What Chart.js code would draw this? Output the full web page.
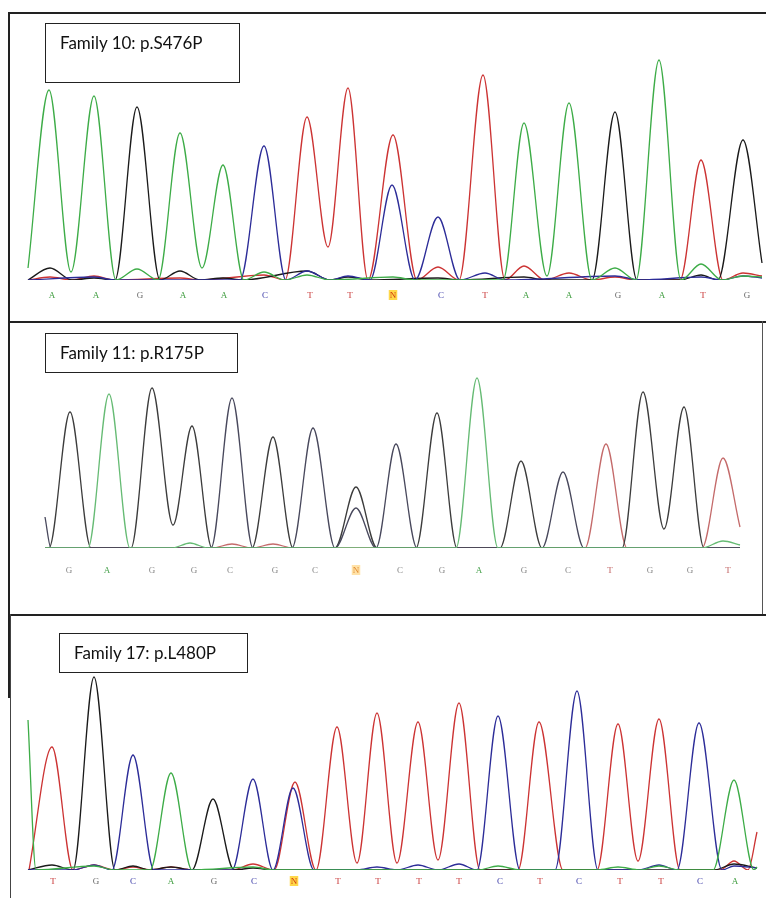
<!DOCTYPE html>
<html lang="en">
<head>
  <meta charset="UTF-8"/>
  <title>Sequencing chromatograms</title>
  <script src="https://cdn.jsdelivr.net/npm/chart.js"></script>
  <style>
    body { margin: 0; background: #fff; }
    #page { position: relative; width: 766px; height: 898px; overflow: hidden; background: #fff; }
    .rule { position: absolute; background: #222; }
    .label-box { position: absolute; border: 1.5px solid #222; box-sizing: border-box; font-family: Lato, 'Open Sans', sans-serif; font-size: 17px; color: #111; z-index: 2; white-space: nowrap; }
    canvas { position: absolute; left: 0; z-index: 1; }
  </style>
</head>
<body>
<div id="page">
  <!-- panel frames -->
  <div class="rule" style="left:8px;top:12px;width:758px;height:1.5px"></div>
  <div class="rule" style="left:8px;top:12px;width:1.5px;height:310px"></div>
  <div class="rule" style="left:8px;top:321px;width:758px;height:1.5px"></div>
  <div class="rule" style="left:8px;top:321px;width:1.5px;height:294px"></div>
  <div class="rule" style="left:762px;top:321px;width:1.2px;height:294px;background:#555"></div>
  <div class="rule" style="left:8px;top:614px;width:758px;height:2px"></div>
  <div class="rule" style="left:7.5px;top:614px;width:2px;height:84px"></div>
  <div class="rule" style="left:9.5px;top:614px;width:1px;height:284px;background:#444"></div>

  <div class="label-box" style="left:45px;top:23px;width:195px;height:60px;padding:8px 0 0 14px">Family 10: p.S476P</div>
  <div class="label-box" style="left:45px;top:333px;width:193px;height:40px;padding:8px 0 0 14px">Family 11: p.R175P</div>
  <div class="label-box" style="left:59px;top:633px;width:189px;height:40px;padding:8px 0 0 14px">Family 17: p.L480P</div>

  <canvas id="fam10" width="766" height="260" style="top:40px"></canvas>
  <canvas id="fam11" width="766" height="217" style="top:358px"></canvas>
  <canvas id="fam17" width="766" height="226" style="top:660px"></canvas>
</div>

<script>
  // ---- Family 10: p.S476P ----
  const fam10Bases = ['A','A','G','A','A','C','T','T','N','C','T','A','A','G','A','T','G'];
  const fam10BasePos = [52,96,140,183,224,265,310,350,393,441,485,526,569,618,662,703,747];
  const fam10A = [[28,12],[49,190],[71,8],[94,184],[116,0],[137,11],[158,0],[180,147],[202,12],[223,115],[244,0],[264,8],[285,0],[307,5],[330,0],[393,3],[415,0],[503,0],[524,157],[547,4],[569,177],[592,0],[615,12],[636,0],[659,220],[681,0],[701,16],[722,0],[743,4],[762,3]];
  const fam10C = [[28,0],[94,3],[115,0],[240,0],[264,134],[286,0],[307,9],[330,0],[348,4],[370,0],[392,95],[415,0],[438,63],[460,0],[485,7],[505,0],[615,4],[640,0],[701,3],[722,0],[743,4],[762,2]];
  const fam10G = [[28,0],[50,12],[72,0],[94,2],[115,0],[137,173],[160,0],[180,9],[200,0],[223,2],[243,0],[307,9],[330,0],[348,3],[370,0],[438,2],[460,0],[524,3],[545,0],[592,0],[615,168],[637,0],[680,0],[701,5],[718,0],[743,140],[762,17]];
  const fam10T = [[28,0],[50,3],[72,0],[94,4],[115,0],[180,2],[200,0],[264,5],[285,0],[307,163],[328,33],[348,192],[368,0],[393,145],[417,0],[438,13],[459,0],[483,205],[505,0],[524,14],[545,0],[569,7],[592,0],[615,3],[636,0],[680,0],[701,120],[723,0],[743,7],[762,4]];

  // ---- Family 11: p.R175P ----
  const fam11Bases = ['G','A','G','G','C','G','C','N','C','G','A','G','C','T','G','G','T'];
  const fam11BasePos = [69,107,152,194,230,275,315,356,400,442,479,524,568,610,650,690,728];
  const fam11A = [[45,0],[88,0],[109,154],[130,0],[172,0],[190,5],[208,0],[456,0],[477,170],[498,0],[702,0],[723,7],[740,3]];
  const fam11C = [[45,31],[51,0],[211,0],[232,150],[253,0],[292,0],[313,120],[335,0],[356,40],[376,0],[396,104],[417,0],[542,0],[563,76],[584,0],[740,0]];
  const fam11G = [[45,0],[49,0],[70,136],[91,0],[131,0],[152,160],[173,23],[192,122],[212,0],[252,0],[273,111],[293,0],[335,0],[356,61],[377,0],[416,0],[437,135],[457,0],[500,0],[521,87],[542,0],[622,0],[643,156],[664,19],[684,141],[704,0],[740,0]];
  const fam11T = [[45,0],[212,0],[232,4],[252,0],[273,4],[293,0],[585,0],[606,104],[627,0],[702,0],[723,90],[740,21]];

  // ---- Family 17: p.L480P ----
  const fam17Bases = ['T','G','C','A','G','C','N','T','T','T','T','C','T','C','T','T','C','A'];
  const fam17BasePos = [53,96,133,171,214,254,294,338,378,419,459,500,540,579,620,661,700,735];
  const fam17A = [[28,150],[36,0],[94,4],[115,0],[150,0],[171,97],[192,0],[253,3],[274,0],[478,0],[498,4],[520,0],[597,0],[618,3],[640,0],[659,4],[680,0],[713,0],[734,90],[754,0],[757,3]];
  const fam17C = [[28,0],[73,0],[94,5],[112,0],[133,115],[154,0],[232,0],[253,91],[273,0],[293,82],[314,0],[357,0],[377,3],[397,0],[418,5],[438,0],[459,6],[477,0],[498,154],[520,0],[555,0],[577,179],[598,0],[638,0],[659,5],[677,0],[699,147],[722,0],[734,4],[757,2]];
  const fam17G = [[28,0],[52,5],[73,0],[94,193],[115,0],[133,4],[150,0],[171,3],[192,0],[213,71],[234,0],[253,2],[274,0],[714,0],[734,6],[757,2]];
  const fam17T = [[29,0],[52,123],[73,0],[94,5],[115,0],[133,3],[150,0],[171,3],[192,0],[232,0],[253,6],[274,0],[295,88],[316,0],[337,143],[357,7],[377,157],[397,7],[418,148],[438,10],[459,167],[480,0],[518,0],[539,148],[563,0],[597,0],[618,146],[638,9],[659,151],[680,0],[720,0],[734,9],[748,0],[757,38]];

  const brightColors = { A: '#3dac47', C: '#2c2c98', G: '#1a1a1a', T: '#cc3333' };
  const dullColors = { A: '#66bb74', C: '#48485c', G: '#3c3c3c', T: '#c46a6a' };
  const brightLabels = { A: '#3a9a3a', C: '#3d3da8', G: '#6a6a6a', T: '#c83434', N: '#d03a10' };
  const dullLabels = { A: '#45a04a', C: '#888', G: '#888', T: '#c06060', N: '#e08a30' };

  function traceSet(traces, colors) {
    return ['A', 'C', 'G', 'T'].map(b => ({
      label: b,
      data: traces[b].map(p => ({ x: p[0], y: p[1] })),
      borderColor: colors[b],
      borderWidth: 1.3,
      pointRadius: 0,
      fill: false,
      cubicInterpolationMode: 'monotone'
    }));
  }

  function drawPanel(id, bases, basePos, traces, colors, labelColors, yMax, tickPad, nBackdrop) {
    return new Chart(document.getElementById(id), {
      type: 'line',
      data: { datasets: traceSet(traces, colors) },
      options: {
        responsive: false,
        animation: false,
        devicePixelRatio: 1,
        layout: { padding: 0 },
        plugins: { legend: { display: false }, tooltip: { enabled: false } },
        scales: {
          x: {
            type: 'linear', min: 0, max: 766,
            grid: { display: false, drawTicks: false },
            border: { display: false },
            afterBuildTicks: s => { s.ticks = basePos.map(v => ({ value: v })); },
            afterFit: s => { s.height = tickPad + 9; },
            ticks: {
              autoSkip: false, maxRotation: 0, padding: tickPad,
              font: { family: "'Liberation Serif', serif", size: 9, lineHeight: 1 },
              callback: (v, i) => bases[i],
              color: ctx => labelColors[bases[ctx.index]] || '#777',
              showLabelBackdrop: ctx => bases[ctx.index] === 'N',
              backdropColor: nBackdrop,
              backdropPadding: { top: 1, bottom: 0, left: 1, right: 1 }
            }
          },
          y: { display: false, min: 0, max: yMax }
        }
      }
    });
  }

  drawPanel('fam10', fam10Bases, fam10BasePos, { A: fam10A, C: fam10C, G: fam10G, T: fam10T }, brightColors, brightLabels, 240, 11, '#ffd84a');
  drawPanel('fam11', fam11Bases, fam11BasePos, { A: fam11A, C: fam11C, G: fam11G, T: fam11T }, dullColors, dullLabels, 190, 18, '#ffe2a8');
  drawPanel('fam17', fam17Bases, fam17BasePos, { A: fam17A, C: fam17C, G: fam17G, T: fam17T }, brightColors, brightLabels, 210, 7, '#ffd84a');
</script>
</body>
</html>
